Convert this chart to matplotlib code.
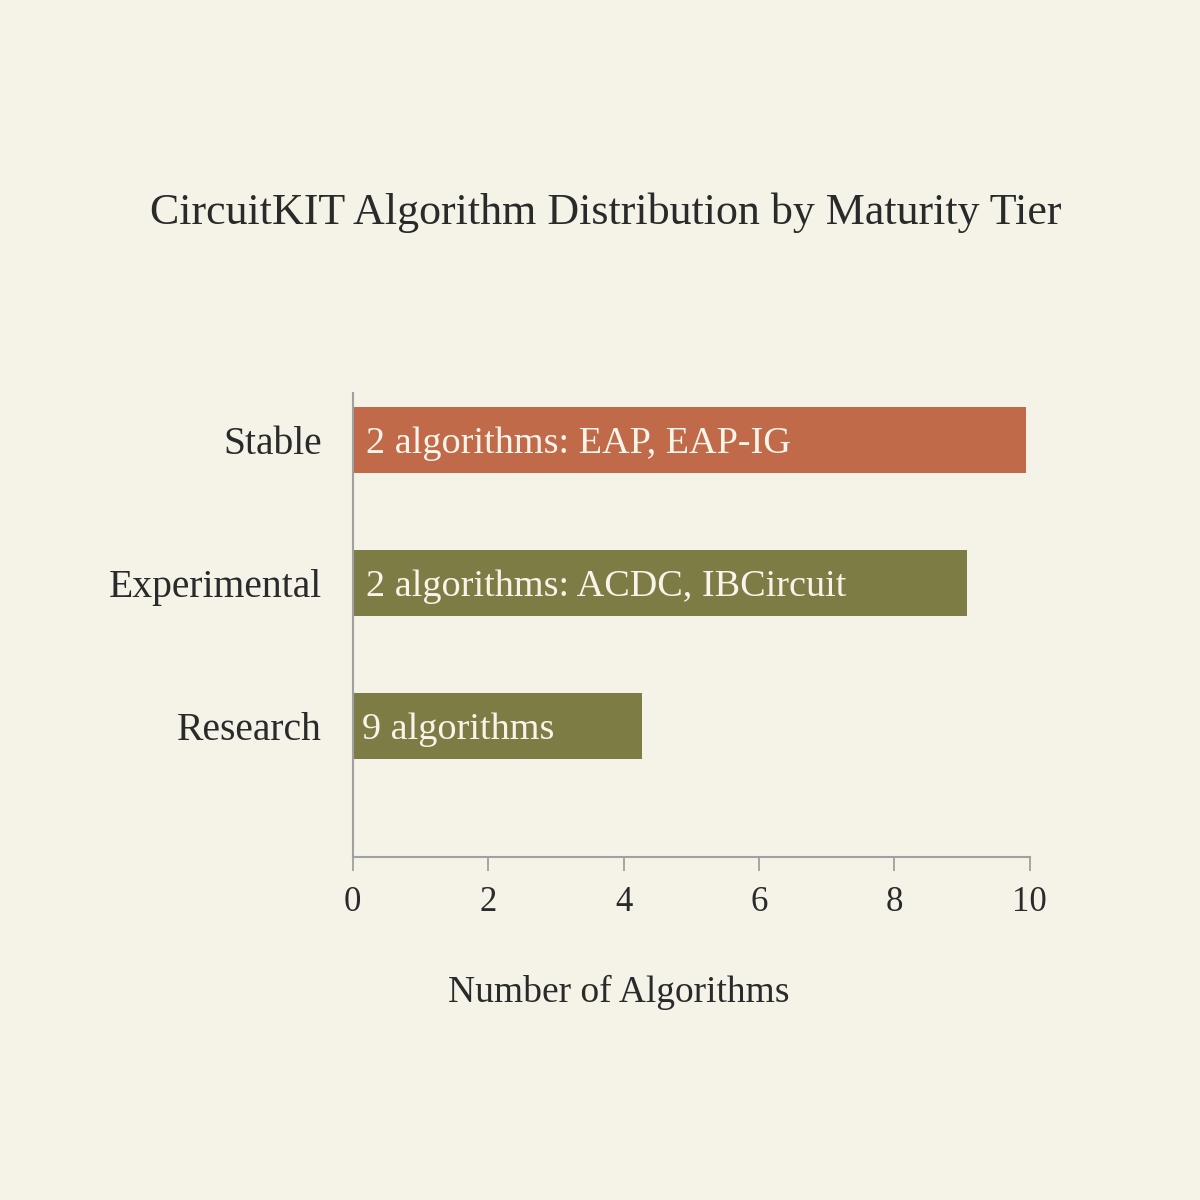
import matplotlib
matplotlib.use("Agg")
import matplotlib.pyplot as plt

categories = ["Research", "Experimental", "Stable"]
values = [4.28, 9.07, 9.95]
bar_labels = ["9 algorithms", "2 algorithms: ACDC, IBCircuit", "2 algorithms: EAP, EAP-IG"]
colors = ["#7E7C45", "#7E7C45", "#C06A4A"]
xticks = [0, 2, 4, 6, 8, 10]

bg = "#F5F2E8"
plt.rcParams["font.family"] = ["Liberation Serif", "DejaVu Serif"]

fig = plt.figure(figsize=(12, 12), dpi=100, facecolor=bg)
ax = fig.add_axes([0.294, 0.286, 0.564, 0.3865])
ax.set_facecolor(bg)

ypos = list(range(len(categories)))
ax.barh(ypos, values, height=0.46, color=colors)
for y, lab in zip(ypos, bar_labels):
    ax.text(0.2 if y > 0 else 0.13, y, lab, va="center_baseline", ha="left",
            color="#F8F4EA", fontsize=27.5)

ax.set_xlim(0, 10)
ax.set_ylim(-0.916, 2.33)
ax.set_xticks(xticks)
ax.set_xticklabels([str(t) for t in xticks], fontsize=25, color="#2A2A2A")
ax.set_yticks(ypos)
ax.set_yticklabels(categories, fontsize=28.5, color="#2A2A2A")
ax.tick_params(axis="y", length=0, pad=22)
ax.tick_params(axis="x", length=10, width=1.2, color="#999999", pad=11)

for s in ["top", "right"]:
    ax.spines[s].set_visible(False)
for s in ["left", "bottom"]:
    ax.spines[s].set_color("#A0A0A0")
    ax.spines[s].set_linewidth(1.5)

ax.set_xlabel("Number of Algorithms", fontsize=27, color="#2A2A2A")
ax.xaxis.set_label_coords(0.393, -0.254)
fig.text(0.505, 0.823, "CircuitKIT Algorithm Distribution by Maturity Tier",
         ha="center", va="center", fontsize=31.7, color="#2A2A2A")

fig.savefig("out.png", dpi=100, facecolor=bg)
